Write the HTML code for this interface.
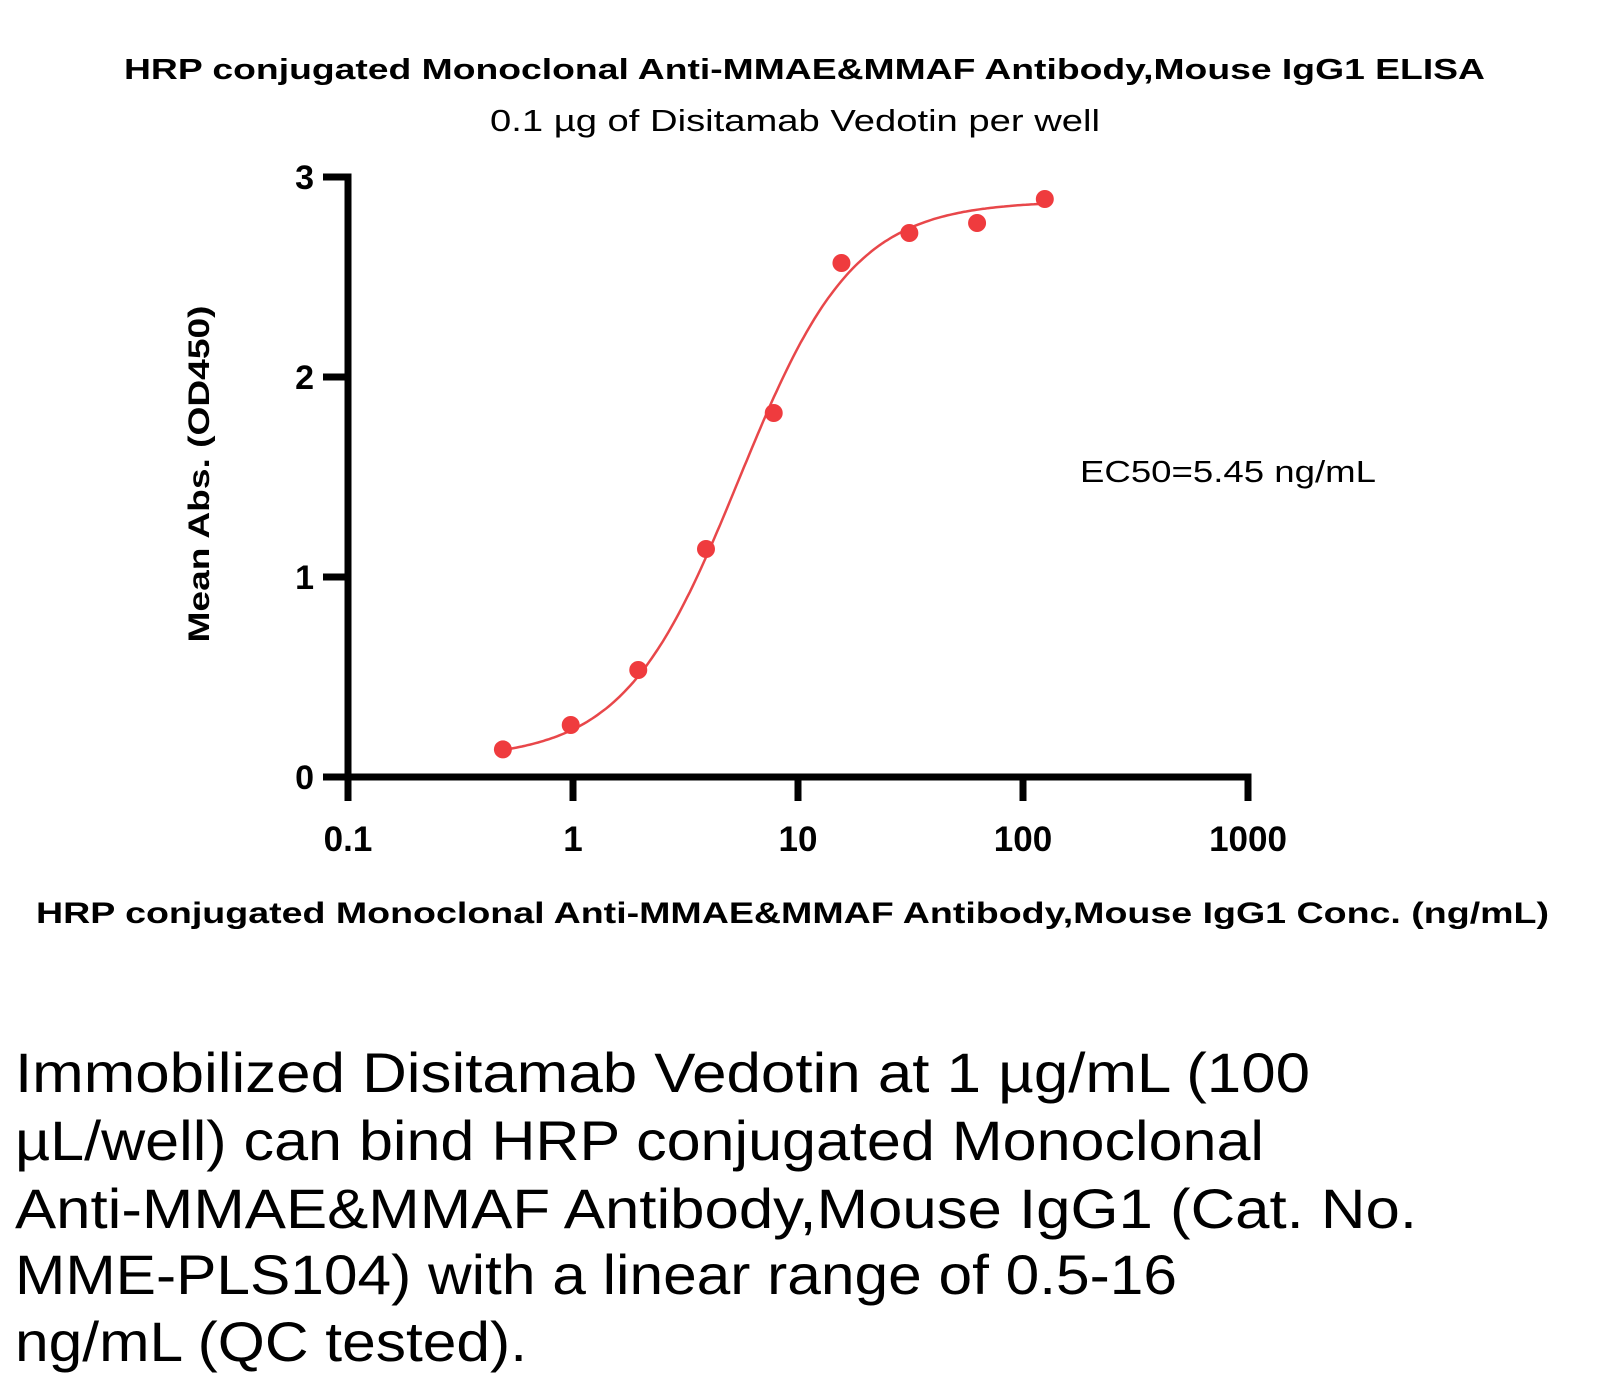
<!DOCTYPE html>
<html><head><meta charset="utf-8"><style>
html,body{margin:0;padding:0;background:#fff}
svg{display:block}
text{font-family:"Liberation Sans",sans-serif;fill:#000}
</style></head><body>
<svg id="chart" width="1599" height="1387" viewBox="0 0 1599 1387" xmlns="http://www.w3.org/2000/svg">
<text x="124" y="79" font-size="29" font-weight="bold" textLength="1361" lengthAdjust="spacingAndGlyphs">HRP conjugated Monoclonal Anti-MMAE&amp;MMAF Antibody,Mouse IgG1 ELISA</text>
<text x="490" y="131" font-size="31" textLength="610" lengthAdjust="spacingAndGlyphs">0.1 µg of Disitamab Vedotin per well</text>
<text transform="translate(209,474) rotate(-90)" text-anchor="middle" font-size="30" font-weight="bold" textLength="337" lengthAdjust="spacingAndGlyphs">Mean Abs. (OD450)</text>
<text x="36" y="923" font-size="30" font-weight="bold" textLength="1513" lengthAdjust="spacingAndGlyphs">HRP conjugated Monoclonal Anti-MMAE&amp;MMAF Antibody,Mouse IgG1 Conc. (ng/mL)</text>
<text x="1080" y="482" font-size="31" textLength="296" lengthAdjust="spacingAndGlyphs">EC50=5.45 ng/mL</text>
<g id="axes"></g>
<g id="marks"></g>
<g>
<text x="15" y="1092" font-size="56" textLength="1295" lengthAdjust="spacingAndGlyphs">Immobilized Disitamab Vedotin at 1 µg/mL (100</text>
<text x="15" y="1160" font-size="56" textLength="1249" lengthAdjust="spacingAndGlyphs">µL/well) can bind HRP conjugated Monoclonal</text>
<text x="15" y="1228" font-size="56" textLength="1402" lengthAdjust="spacingAndGlyphs">Anti-MMAE&amp;MMAF Antibody,Mouse IgG1 (Cat. No.</text>
<text x="15" y="1294" font-size="56" textLength="1162" lengthAdjust="spacingAndGlyphs">MME-PLS104) with a linear range of 0.5-16</text>
<text x="15" y="1361" font-size="56" textLength="512" lengthAdjust="spacingAndGlyphs">ng/mL (QC tested).</text>
</g>
</svg>
<script>
const concentrations = [0.488, 0.977, 1.95, 3.9, 7.8, 15.6, 31.25, 62.5, 125];
const absorbances = [0.138, 0.26, 0.535, 1.14, 1.82, 2.57, 2.72, 2.77, 2.89];
const xTicks = [0.1, 1, 10, 100, 1000];
const xTickLabels = ["0.1", "1", "10", "100", "1000"];
const yTicks = [0, 1, 2, 3];
const yTickLabels = ["0", "1", "2", "3"];
const fitParams = [0.09, 2.88, 5.45, 1.7]; // bottom, top, EC50, hill

const NS = "http://www.w3.org/2000/svg";
const X0 = 348, X1 = 1248, Y0 = 777, Y1 = 177;
function xs(v){ return X0 + (Math.log10(v) + 1) / 4 * (X1 - X0); }
function ys(v){ return Y0 - v / 3 * (Y0 - Y1); }
function mk(tag, attrs, parent){
  const e = document.createElementNS(NS, tag);
  for (const k in attrs) e.setAttribute(k, attrs[k]);
  parent.appendChild(e);
  return e;
}
const axes = document.getElementById('axes');
const marks = document.getElementById('marks');

let el = mk('line', {x1: X0, y1: Y0, x2: X0, y2: Y1 - 3.5, stroke: '#000', 'stroke-width': 7}, axes);


el = mk('line', {x1: X0 - 3.5, y1: Y0, x2: X1 + 3.5, y2: Y0, stroke: '#000', 'stroke-width': 7}, axes);



yTicks.forEach((t, i) => {
  const y = ys(t);
  const tk = mk('line', {x1: 323, y1: y, x2: X0, y2: y, stroke: '#000', 'stroke-width': 7}, axes);
  
  
  const lb = mk('text', {x: 314, y: y + 12, 'text-anchor': 'end', 'font-size': 34, 'font-weight': 'bold'}, axes);
  lb.textContent = yTickLabels[i];
  
  
});
xTicks.forEach((t, i) => {
  const x = xs(t);
  const tk = mk('line', {x1: x, y1: Y0, x2: x, y2: 801, stroke: '#000', 'stroke-width': 7}, axes);
  
  
  const lb = mk('text', {x: x, y: 851, 'text-anchor': 'middle', 'font-size': 35, 'font-weight': 'bold'}, axes);
  lb.textContent = xTickLabels[i];
  
  
});

function fit(c){
  const [b, t, ec, h] = fitParams;
  return b + (t - b) / (1 + Math.pow(ec / c, h));
}
const lmin = Math.log10(concentrations[0]), lmax = Math.log10(concentrations[concentrations.length - 1]);
let d = '';
for (let i = 0; i <= 200; i++){
  const c = Math.pow(10, lmin + (lmax - lmin) * i / 200);
  d += (i ? 'L' : 'M') + xs(c).toFixed(1) + ',' + ys(fit(c)).toFixed(1);
}
el = mk('path', {d: d, fill: 'none', stroke: '#e8474a', 'stroke-width': 2.5}, marks);



concentrations.forEach((c, i) => {
  const p = mk('circle', {cx: xs(c), cy: ys(absorbances[i]), r: 9, fill: '#ef3b3e'}, marks);
  
  
});
</script>
</body></html>
